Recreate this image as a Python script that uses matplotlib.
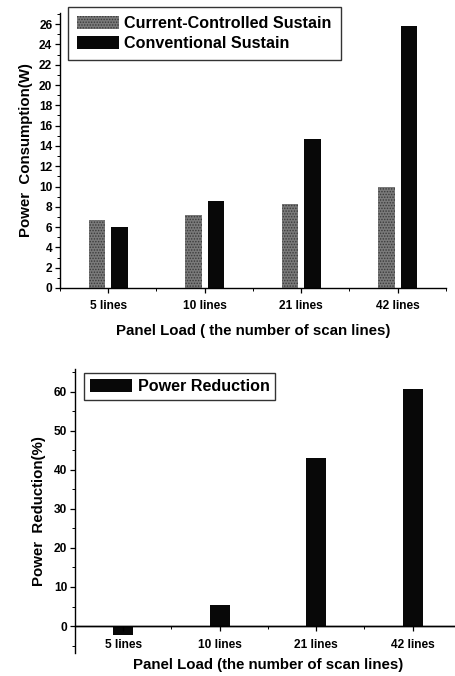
import matplotlib
matplotlib.use("Agg")
import matplotlib.pyplot as plt
from matplotlib.ticker import MultipleLocator
import numpy as np

plt.rcParams["font.family"] = ["Liberation Sans", "DejaVu Sans"]
plt.rcParams["font.weight"] = "bold"
plt.rcParams["hatch.linewidth"] = 0.7

# data
loads = ["5 lines", "10 lines", "21 lines", "42 lines"]
current_ctrl = [6.7, 7.2, 8.3, 10.0]
conventional = [6.0, 8.55, 14.65, 25.8]
reduction = [-2.2, 5.4, 42.9, 60.6]

x = np.arange(1, len(loads) + 1)

fig = plt.figure(figsize=(4.56, 6.76), dpi=100)

# ---- top panel: power consumption
ax1 = fig.add_axes([60/456, 1-288/676, 386/456, 275/676])
ax1.bar(x - 0.118, current_ctrl, width=0.17, color="#7a7a7a",
        hatch="......", edgecolor="#3a3a3a", linewidth=0,
        label="Current-Controlled Sustain")
ax1.bar(x + 0.118, conventional, width=0.17, color="#080808",
        linewidth=0, label="Conventional Sustain")
ax1.set_xlim(0.5, 4.5)
ax1.set_ylim(0, 27.1)
ax1.set_xticks(x)
ax1.set_xticklabels(loads)
ax1.xaxis.set_minor_locator(MultipleLocator(1, offset=0.5))
ax1.yaxis.set_major_locator(MultipleLocator(2))
ax1.yaxis.set_minor_locator(MultipleLocator(1))
ax1.set_ylabel("Power  Consumption(W)", fontsize=10.8, fontweight="bold", labelpad=4)
ax1.set_xlabel("Panel Load ( the number of scan lines)", fontsize=10.8,
               fontweight="bold", labelpad=9)
ax1.legend(loc="upper left", bbox_to_anchor=(68/456, 1-7/676),
           bbox_transform=fig.transFigure, borderaxespad=0,
           prop={"weight": "bold", "size": 11.6},
           handlelength=2.6, handleheight=0.9, fancybox=False,
           edgecolor="#333333", framealpha=1, borderpad=0.55,
           labelspacing=0.3, handletextpad=0.35)

# ---- bottom panel: power reduction
ax2 = fig.add_axes([75/456, 1-653/676, 386/456, 284/676])
ax2.bar(x, reduction, width=0.21, color="#080808", linewidth=0,
        label="Power Reduction")
ax2.axhline(0, color="black", linewidth=1.0)
ax2.set_xlim(0.5, 4.5)
ax2.set_ylim(-6.9, 65.8)
ax2.set_xticks(x)
ax2.set_xticklabels(loads)
ax2.xaxis.set_minor_locator(MultipleLocator(1, offset=0.5))
ax2.yaxis.set_major_locator(MultipleLocator(10))
ax2.yaxis.set_minor_locator(MultipleLocator(5))
ax2.set_yticks([0, 10, 20, 30, 40, 50, 60])
ax2.set_ylabel("Power  Reduction(%)", fontsize=10.8, fontweight="bold", labelpad=6)
ax2.set_xlabel("Panel Load (the number of scan lines)", fontsize=10.8,
               fontweight="bold", labelpad=5)
ax2.legend(loc="upper left", bbox_to_anchor=(84/456, 1-373/676),
           bbox_transform=fig.transFigure, borderaxespad=0,
           prop={"weight": "bold", "size": 11.6},
           handlelength=2.6, handleheight=0.9, fancybox=False,
           edgecolor="#333333", framealpha=1, borderpad=0.35,
           handletextpad=0.4)

for ax in (ax1, ax2):
    ax.spines["top"].set_visible(False)
    ax.spines["right"].set_visible(False)
    ax.spines["left"].set_linewidth(1.0)
    ax.spines["bottom"].set_linewidth(1.0)
    ax.tick_params(axis="both", which="major", labelsize=8.6, length=3.5,
                   width=0.9, pad=2)
    ax.tick_params(axis="both", which="minor", length=2, width=0.7)
    for lbl in ax.get_xticklabels() + ax.get_yticklabels():
        lbl.set_fontweight("bold")

ax1.tick_params(axis="x", which="major", pad=5)

# bottom panel: x axis sits at zero, not at the bottom of the axes
ax2.spines["bottom"].set_position(("data", 0))
ax2.tick_params(axis="x", which="both", pad=6)

fig.savefig("out.png", dpi=100)
